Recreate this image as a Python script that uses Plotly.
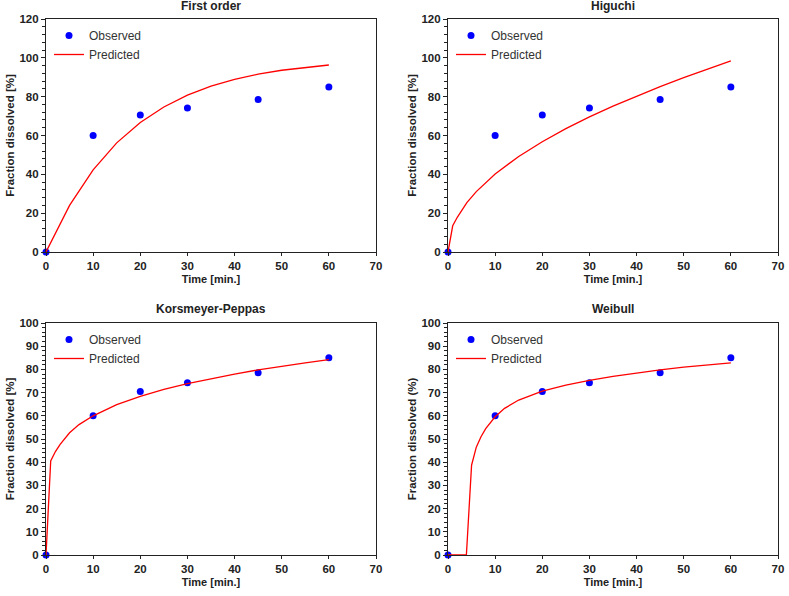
import plotly.graph_objects as go

# observed dissolution data
t_obs = [0, 10, 20, 30, 45, 60]
y_obs = [0, 60.0, 70.5, 74.2, 78.6, 85.0]

# predicted curves
t_first = [0, 5, 10, 15, 20, 25, 30, 35, 40, 45, 50, 55, 60]
y_first = [0, 24.0, 42.3, 56.2, 66.7, 74.7, 80.8, 85.4, 88.9, 91.6, 93.6, 95.1, 96.3]

t_hig = [0, 1, 2, 4, 6, 8, 10, 15, 20, 25, 30, 35, 40, 45, 50, 55, 60]
y_hig = [0, 13.5, 18.0, 25.4, 31.1, 35.9, 40.2, 49.2, 56.8, 63.5, 69.6, 75.1, 80.3, 85.2, 89.8, 94.2, 98.4]

t_kp = [0, 1, 2, 3, 5, 7, 10, 15, 20, 25, 30, 35, 40, 45, 50, 55, 60]
y_kp = [0, 40.5, 44.6, 47.7, 52.7, 56.2, 60.0, 64.8, 68.4, 71.4, 73.9, 76.1, 78.0, 79.8, 81.4, 82.8, 84.2]

t_wb = [0, 3.9, 5, 6, 7, 8, 10, 12, 15, 20, 25, 30, 35, 40, 45, 50, 55, 60]
y_wb = [0, 0, 38.7, 46.5, 51.0, 54.5, 59.6, 63.2, 66.8, 70.6, 73.2, 75.3, 77.0, 78.5, 79.8, 81.0, 82.0, 82.8]

panels = [
    ("First order", t_first, y_first, "Fraction dissolved [%]", 120, 20, 4),
    ("Higuchi", t_hig, y_hig, "Fraction dissolved [%]", 120, 20, 4),
    ("Korsmeyer-Peppas", t_kp, y_kp, "Fraction dissolved [%]", 100, 10, 2),
    ("Weibull", t_wb, y_wb, "Fraction dissolved (%)", 100, 10, 2),
]

W, H = 789, 596


def px(v):
    return v / W


def py(v):
    return 1 - v / H


xdoms = [(px(46), px(376)), (px(448), px(778))]
ydoms = [(py(252), py(19)), (py(555), py(323))]
title_y = [py(6), py(309)]

font = "Liberation Sans, Arial, sans-serif"
fig = go.Figure()
layout = {}

for i, (title, tx, ty, ytitle, ymax, dtick, minor) in enumerate(panels):
    col = i % 2
    row = i // 2
    n = "" if i == 0 else str(i + 1)
    leg = "legend" + n
    xa = "x" + n
    ya = "y" + n

    fig.add_trace(go.Scatter(x=t_obs, y=y_obs, mode="markers", name="Observed",
                             marker=dict(color="#0000ff", size=7),
                             xaxis=xa, yaxis=ya, legend=leg, cliponaxis=False))
    fig.add_trace(go.Scatter(x=tx, y=ty, mode="lines", name="Predicted",
                             line=dict(color="#ff0000", width=1.3),
                             xaxis=xa, yaxis=ya, legend=leg))

    x0, x1 = xdoms[col]
    y0, y1 = ydoms[row]
    tickfont = dict(family=font, size=11.5, color="#222")
    layout["xaxis" + n] = dict(
        domain=[x0, x1], anchor=ya, range=[0, 70], dtick=10, automargin=False,
        showgrid=False, zeroline=False, showline=True, linecolor="#222",
        linewidth=1.2, mirror=True, ticks="outside", ticklen=3, tickcolor="#222",
        tickfont=tickfont, tickprefix="<b>", ticksuffix="</b>",
        title=dict(text="<b>Time [min.]</b>",
                   font=dict(family=font, size=11, color="#222"), standoff=4))
    layout["yaxis" + n] = dict(
        domain=[y0, y1], anchor=xa, range=[0, ymax], dtick=dtick, automargin=False,
        showgrid=False, zeroline=False, showline=True, linecolor="#222",
        linewidth=1.2, mirror=True, ticks="outside", ticklen=4, tickcolor="#222",
        tickfont=tickfont, tickprefix="<b>", ticksuffix="</b>",
        minor=dict(dtick=minor, ticks="outside", ticklen=3, tickcolor="#222"),
        title=dict(text="<b>" + ytitle + "</b>",
                   font=dict(family=font, size=11.5, color="#222"), standoff=2))
    layout[leg] = dict(
        x=x0 + 3 / W, y=y1 - 2 / H, xanchor="left", yanchor="top",
        bgcolor="rgba(0,0,0,0)", font=dict(family=font, size=12, color="#333"),
        tracegroupgap=0, itemwidth=30)

    fig.add_annotation(text="<b>" + title + "</b>", xref="paper", yref="paper",
                       x=(x0 + x1) / 2, y=title_y[row], xanchor="center",
                       yanchor="middle", showarrow=False,
                       font=dict(family=font, size=12, color="#222"))

for k, v in layout.items():
    fig.layout[k] = v

fig.update_layout(width=W, height=H, margin=dict(l=0, r=0, t=0, b=0),
                  plot_bgcolor="white", paper_bgcolor="white", showlegend=True,
                  font=dict(family=font))

# drop the default page margin so the figure fills the window
fig.write_html("out.html", config={"displayModeBar": False},
               post_script="document.body.style.margin='0';")
